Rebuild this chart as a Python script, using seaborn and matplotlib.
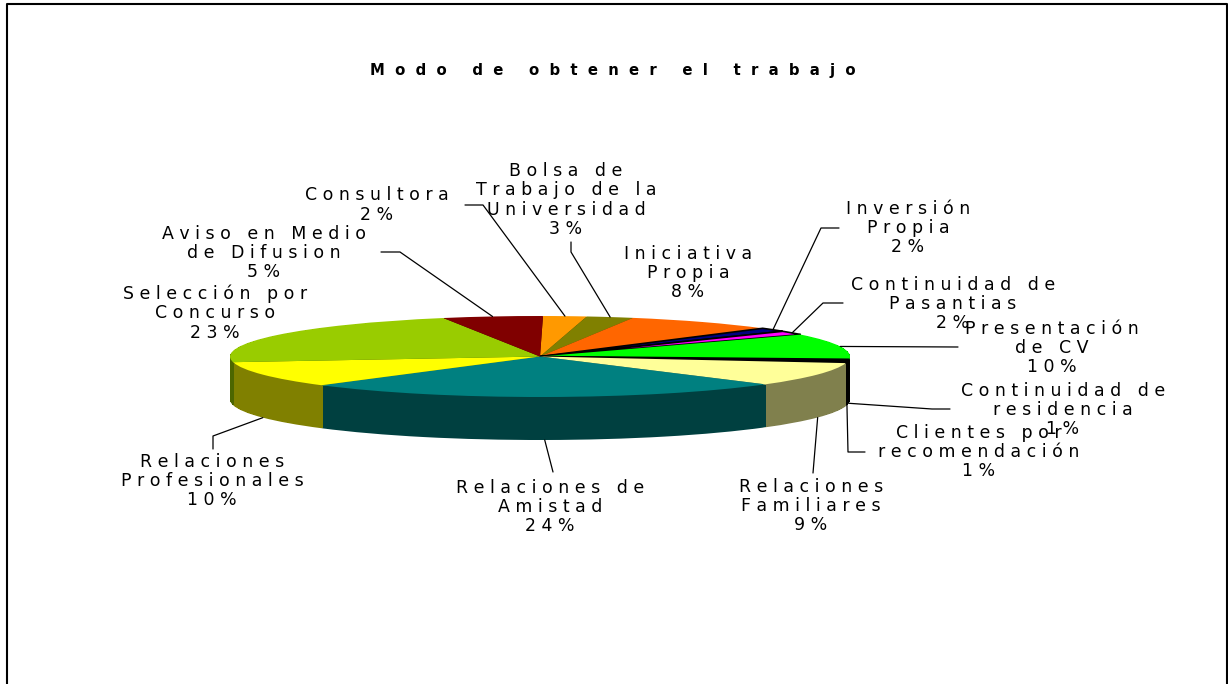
import numpy as np
import seaborn as sns
import matplotlib.pyplot as plt

# clockwise from the top of the pie
categories = ["Consultora", "Bolsa de\nTrabajo de la\nUniversidad", "Iniciativa\nPropia", "Inversión\nPropia",
              "Continuidad de\nPasantias", "Presentación\nde CV", "Continuidad de\nresidencia",
              "Clientes por\nrecomendación", "Relaciones\nFamiliares", "Relaciones de\nAmistad",
              "Relaciones\nProfesionales", "Selección por\nConcurso", "Aviso en Medio\nde Difusion"]
shares = [2.26, 2.44, 7.9, 1.56, 1.6, 10.2, 0.75, 0.75, 9.45, 25.4, 10.3, 22.2, 5.2]
shown_pct = [2, 3, 8, 2, 2, 10, 1, 1, 9, 24, 10, 23, 5]
colors = ["#FF9900", "#808000", "#FF6600", "#000080", "#FF00FF", "#00FF00", "#000000",
          "#000000", "#FFFF99", "#008080", "#FFFF00", "#99CC00", "#800000"]
title = "Modo de obtener el trabajo"

# label centres in pixels of the image
label_xy = [(377, 205), (566, 200), (688, 273), (908, 228), (953, 304), (1052, 348), (1063, 410),
            (979, 452), (811, 506), (550, 507), (212, 481), (215, 313), (264, 253)]
# leader line points going from the label towards the pie
leaders = [[(465, 205), (483, 205)], [(571, 242), (571, 252)], [], [(839, 228), (821, 228)],
           [(843, 303), (823, 303)], [(958, 347)], [(950, 409), (932, 409)],
           [(865, 452), (848, 452)], [(813, 473)], [(553, 472)], [(213, 449), (213, 436)], [],
           [(381, 252), (400, 252)]]

W, H = 1228, 684
CX, CY, RX, RY, DEPTH = 540, 356.5, 310, 40.5, 43


def to_data(x, y):
    return (x - CX) / RX, (CY - y) / RY


def spaced(s, gap=" "):
    return "\n".join(gap.join(line) for line in s.split("\n"))


sns.set_theme(style="white")
plt.rcParams['font.family'] = ['DejaVu Sans']

fig, ax = plt.subplots(figsize=(W / 100, H / 100), dpi=100)
ax.set_position([0, 0, 1, 1])

pal = np.array(sns.color_palette(colors))

# side of the pie: stack of darker pies, top face last
for k in range(DEPTH, 0, -1):
    ax.pie(shares, colors=[tuple(c) for c in pal * 0.5], startangle=89.45, counterclock=False,
           center=(0, -k / RY), radius=1, wedgeprops={'linewidth': 0, 'antialiased': k == DEPTH})
wedges, _ = ax.pie(shares, colors=[tuple(c) for c in pal], startangle=89.45, counterclock=False,
                   center=(0, 0), radius=1, wedgeprops={'linewidth': 0})
for i in [3, 4, 6, 7]:
    wedges[i].set_edgecolor('black')
    wedges[i].set_linewidth(1.2)

ax.set_aspect('auto')
ax.set_xlim(to_data(0, 0)[0], to_data(W, 0)[0])
ax.set_ylim(to_data(0, H)[1], to_data(0, 0)[1])
ax.set_axis_off()

# leader lines end on the rim at the middle of each wedge
for w, pts in zip(wedges, leaders):
    if not pts:
        continue
    mid = np.deg2rad((w.theta1 + w.theta2) / 2)
    x, y = np.cos(mid), np.sin(mid)
    if y < 0:
        y -= DEPTH / RY
    line = [to_data(*p) for p in pts] + [(x, y)]
    ax.plot([p[0] for p in line], [p[1] for p in line], color='black', lw=0.9, zorder=20, clip_on=False)

for cat, pct, (x, y) in zip(categories, shown_pct, label_xy):
    tx, ty = to_data(x, y)
    ax.text(tx, ty, spaced(cat) + "\n" + spaced(str(pct)) + " %", ha='center', va='center',
            fontsize=12.5, linespacing=1.1, color='black', zorder=30)

tx, ty = to_data(613, 71)
ax.text(tx, ty, spaced(title, "  "), ha='center', va='center', fontsize=10.7, fontweight='bold',
        color='black', zorder=30)

# chart frame, its bottom edge is outside the image
frame = [to_data(7, H + 5), to_data(7, 4), to_data(1226.5, 4), to_data(1226.5, H + 5)]
ax.plot([p[0] for p in frame], [p[1] for p in frame], color='black', lw=1.5, zorder=40)

fig.savefig('out.png', dpi=100)
